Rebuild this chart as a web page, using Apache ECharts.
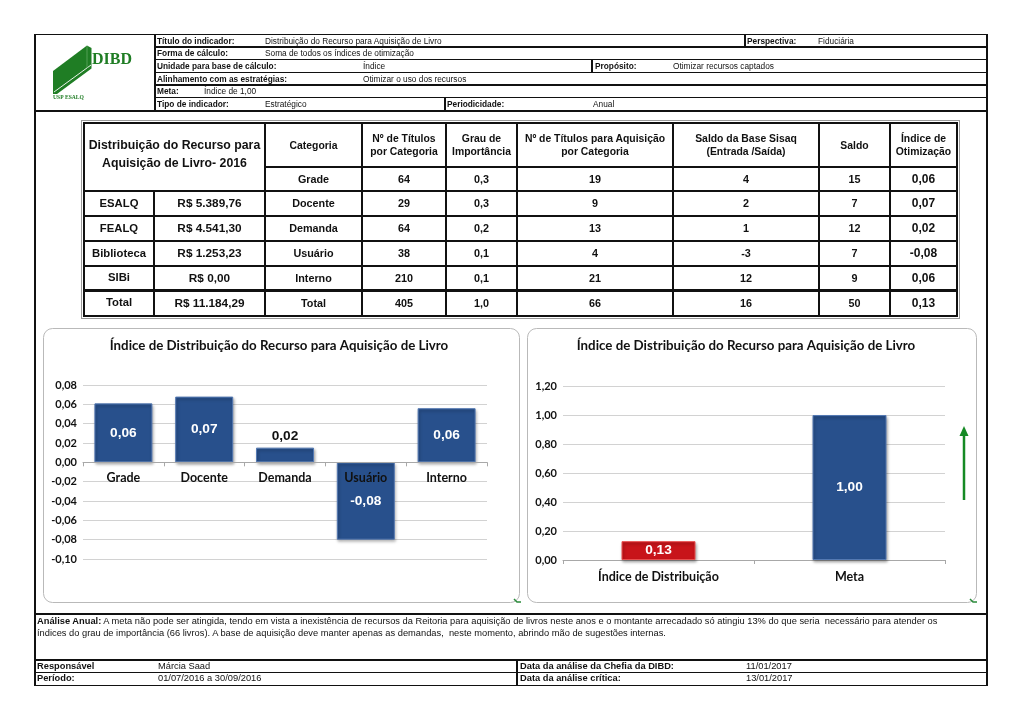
<!DOCTYPE html>
<html><head><meta charset="utf-8">
<script src="https://cdn.jsdelivr.net/npm/echarts@6/dist/echarts.min.js"></script>
<style>
html,body{margin:0;padding:0;background:#fff;}
#page{position:relative;width:1024px;height:723px;overflow:hidden;font-family:"Liberation Sans",Arial,sans-serif;color:#111;}
#chart{position:absolute;left:0;top:0;width:1024px;height:723px;}
.ln{position:absolute;background:#111;}
.t{position:absolute;white-space:nowrap;line-height:1;}
.c{position:absolute;display:flex;align-items:center;justify-content:center;text-align:center;font-weight:bold;line-height:1.2;}
</style></head><body>
<div id="page"><div id="chart"></div></div>
<script>
// ---------------- data ----------------
const categories = ['Grade', 'Docente', 'Demanda', 'Usuário', 'Interno'];
const indiceValues = [0.061, 0.068, 0.0152, -0.080, 0.056];
const summaryCategories = ['Índice de Distribuição', 'Meta'];
const summaryValues = [0.13, 1.00];
const chartTitle = 'Índice de Distribuição do Recurso para Aquisição de Livro';
const leftAxisMin = -0.10, leftAxisMax = 0.08, leftAxisStep = 0.02;
const rightAxisMin = 0, rightAxisMax = 1.2, rightAxisStep = 0.2;

const tableNames = ['ESALQ', 'FEALQ', 'Biblioteca', 'SIBi', 'Total'];
const tableAmounts = ['R$ 5.389,76', 'R$ 4.541,30', 'R$ 1.253,23', 'R$ 0,00', 'R$ 11.184,29'];
const tableCategories = ['Grade', 'Docente', 'Demanda', 'Usuário', 'Interno', 'Total'];
const titulosPorCategoria = ['64', '29', '64', '38', '210', '405'];
const grauImportancia = ['0,3', '0,3', '0,2', '0,1', '0,1', '1,0'];
const titulosAquisicao = ['19', '9', '13', '4', '21', '66'];
const saldoSisaq = ['4', '2', '1', '-3', '12', '16'];
const saldo = ['15', '7', '12', '7', '9', '50'];
const indiceOtimizacao = ['0,06', '0,07', '0,02', '-0,08', '0,06', '0,13'];
const tableHeaders = ['Categoria', 'Nº de Títulos<br>por Categoria', 'Grau de<br>Importância',
  'Nº de Títulos para Aquisição<br>por Categoria', 'Saldo da Base Sisaq<br>(Entrada /Saída)', 'Saldo', 'Índice de<br>Otimização'];
const tableTitle = 'Distribuição do Recurso para<br>Aquisição de Livro- 2016';

// ---------------- helpers ----------------
const page = document.getElementById('page');
function box(x, y, w, h, color) {
  const d = document.createElement('div'); d.className = 'ln';
  d.style.cssText = `left:${x}px;top:${y}px;width:${w}px;height:${h}px;` + (color ? `background:${color};` : '');
  page.appendChild(d);
}
function hl(x1, x2, y, t = 1, c) { box(x1, y - t / 2, x2 - x1, t, c); }
function vl(x, y1, y2, t = 1, c) { box(x - t / 2, y1, t, y2 - y1, c); }
function text(x, cy, s, size, bold, extra) {
  const d = document.createElement('div'); d.className = 't'; d.textContent = s;
  d.style.cssText = `left:${x}px;top:${cy - size * 0.5}px;font-size:${size}px;font-weight:${bold ? 'bold' : 'normal'};` + (extra || '');
  page.appendChild(d); return d;
}
function cell(x1, y1, x2, y2, html, size, extra) {
  const d = document.createElement('div'); d.className = 'c';
  d.style.cssText = `left:${x1}px;top:${y1}px;width:${x2 - x1}px;height:${y2 - y1}px;font-size:${size}px;` + (extra || '');
  d.innerHTML = html; page.appendChild(d); return d;
}

// ---------------- header block ----------------
const HS = 8.3;
const hy = [34.5, 47, 59.7, 72.3, 85, 97.5, 110.5];
const hc = i => (hy[i] + hy[i + 1]) / 2;
hl(35, 987, 34.5, 1.5);
for (let i = 1; i < 6; i++) hl(155, 987, hy[i], 1.3);
hl(35, 987, 110.8, 2);
vl(35, 34, 686, 1.5); vl(987, 34, 686, 1.5);
vl(155, 34, 111, 1.5);
vl(745, 34.5, 47, 1.5);
vl(592, 59.7, 72.3, 1.5);
vl(445, 97.5, 110.5, 1.5);

text(157, hc(0), 'Título do indicador:', HS, true);
text(265, hc(0), 'Distribuição do Recurso para Aquisição de Livro', HS, false);
text(747, hc(0), 'Perspectiva:', HS, true);
text(818, hc(0), 'Fiduciária', HS, false);
text(157, hc(1), 'Forma de cálculo:', HS, true);
text(265, hc(1), 'Soma de todos os índices de otimização', HS, false);
text(157, hc(2), 'Unidade para base de cálculo:', HS, true);
text(363, hc(2), 'Índice', HS, false);
text(595, hc(2), 'Propósito:', HS, true);
text(673, hc(2), 'Otimizar recursos captados', HS, false);
text(157, hc(3), 'Alinhamento com as estratégias:', HS, true);
text(363, hc(3), 'Otimizar o uso dos recursos', HS, false);
text(157, hc(4), 'Meta:', HS, true);
text(204, hc(4), 'Índice de 1,00', HS, false);
text(157, hc(5), 'Tipo de indicador:', HS, true);
text(265, hc(5), 'Estratégico', HS, false);
text(447, hc(5), 'Periodicidade:', HS, true);
text(593, hc(5), 'Anual', HS, false);

// ---------------- data table ----------------
const X = [84, 154, 265, 362, 446, 517, 673, 819, 890, 957];
const Y = [123, 167, 191, 216, 241, 266, 290, 316];
const fr = document.createElement('div');
fr.style.cssText = 'position:absolute;left:81px;top:120px;width:877px;height:197px;border:1px solid #9a9a9a;';
page.appendChild(fr);
const LW = 2;
hl(84, 957, 123, LW); hl(265, 957, 167, LW);
hl(84, 957, 191, LW); hl(84, 957, 216, LW); hl(84, 957, 241, LW); hl(84, 957, 266, LW);
hl(84, 957, 290, 3); hl(84, 957, 316, LW);
vl(84, 122, 317, LW); vl(957, 122, 317, LW);
vl(154, 191, 316, LW);
[265, 362, 446, 517, 673, 819, 890].forEach(x => vl(x, 122, 317, (x === 265 || x === 819) ? 2.6 : LW));

cell(84, 123, 265, 184, tableTitle, 12.3, 'line-height:18px;');
tableHeaders.forEach((h, j) => cell(X[j + 2], 123, X[j + 3], 167, h, 10.4, 'line-height:13px;'));
for (let r = 0; r < 6; r++) {
  const y1 = Y[r + 1], y2 = Y[r + 2];
  if (r >= 1) {
    cell(X[0], y1, X[1], y2, tableNames[r - 1], 11.3);
    cell(X[1], y1, X[2], y2, tableAmounts[r - 1], 11.8);
  }
  cell(X[2], y1, X[3], y2, tableCategories[r], 10.8);
  cell(X[3], y1, X[4], y2, titulosPorCategoria[r], 10.8);
  cell(X[4], y1, X[5], y2, grauImportancia[r], 10.8);
  cell(X[5], y1, X[6], y2, titulosAquisicao[r], 10.8);
  cell(X[6], y1, X[7], y2, saldoSisaq[r], 10.8);
  cell(X[7], y1, X[8], y2, saldo[r], 10.8);
  cell(X[8], y1, X[9], y2, indiceOtimizacao[r], 12);
}

// ---------------- footer ----------------
hl(35, 987, 613.8, 2);
hl(35, 987, 660, 2);
hl(35, 987, 672.6, 1.3);
hl(35, 987, 685.6, 1.5);
vl(517, 660, 686, 1.5);
const an = document.createElement('div');
an.style.cssText = 'position:absolute;left:37px;top:615px;width:948px;font-size:9.3px;line-height:12.2px;white-space:nowrap;';
an.innerHTML = '<b>Análise Anual:</b> A meta não pode ser atingida, tendo em vista a inexistência de recursos da Reitoria para aquisição de livros neste anos e o montante arrecadado só atingiu 13% do que seria&nbsp; necessário para atender os<br>índices do grau de importância (66 livros). A base de aquisição deve manter apenas as demandas,&nbsp; neste momento, abrindo mão de sugestões internas.';
page.appendChild(an);
const FS = 9.3;
text(37, 666.3, 'Responsável', FS, true);
text(158, 666.3, 'Márcia Saad', FS, false);
text(520, 666.3, 'Data da análise da Chefia da DIBD:', FS, true);
text(746, 666.3, '11/01/2017', FS, false);
text(37, 679.1, 'Período:', FS, true);
text(158, 679.1, '01/07/2016 a 30/09/2016', FS, false);
text(520, 679.1, 'Data da análise crítica:', FS, true);
text(746, 679.1, '13/01/2017', FS, false);

// ---------------- charts ----------------
const fmt = v => (Math.round(v * 100) / 100).toFixed(2).replace('.', ',');
const blue = '#28508c', blueEdge = '#5479b2';
const red = '#c8141a', redEdge = '#e85050';
const barShadow = { shadowColor: 'rgba(0,0,0,0.35)', shadowBlur: 3, shadowOffsetX: 1, shadowOffsetY: 2 };
const catLabel = { fontFamily: 'Lato', fontWeight: 'bold', fontSize: 12.5, color: '#111' };
const valLabel = { formatter: fmt, fontFamily: 'Lato', fontWeight: 'bold', fontSize: 11, color: '#111', margin: 6 };
const barLabel = { show: true, formatter: p => fmt(p.value), fontFamily: 'Liberation Sans', fontWeight: 'bold', fontSize: 13.7 };

const leftGrid = { left: 83, top: 385, width: 404, height: 174 };
// the category axis of the left chart sits on the zero line
const zeroOffset = -leftGrid.height * (0 - leftAxisMin) / (leftAxisMax - leftAxisMin);

const chart = echarts.init(document.getElementById('chart'), null, { renderer: 'canvas' });
chart.setOption({
  animation: false,
  grid: [
    leftGrid,
    { left: 563, top: 386, width: 382, height: 174 }
  ],
  xAxis: [
    { gridIndex: 0, type: 'category', data: categories, z: 5, position: 'bottom', offset: zeroOffset,
      axisLine: { onZero: false, lineStyle: { color: '#a8a8a8' } },
      axisTick: { show: true, length: 4, lineStyle: { color: '#a8a8a8' } },
      axisLabel: Object.assign({ margin: 9 }, catLabel) },
    { gridIndex: 1, type: 'category', data: summaryCategories,
      axisLine: { lineStyle: { color: '#a8a8a8' } },
      axisTick: { show: true, length: 4, lineStyle: { color: '#a8a8a8' } },
      axisLabel: Object.assign({ margin: 10 }, catLabel) }
  ],
  yAxis: [
    { gridIndex: 0, type: 'value', min: leftAxisMin, max: leftAxisMax, interval: leftAxisStep,
      axisLabel: valLabel, axisLine: { show: false }, axisTick: { show: false },
      splitLine: { lineStyle: { color: '#d2d2d2' } } },
    { gridIndex: 1, type: 'value', min: rightAxisMin, max: rightAxisMax, interval: rightAxisStep,
      axisLabel: valLabel, axisLine: { show: false }, axisTick: { show: false },
      splitLine: { lineStyle: { color: '#d2d2d2' } } }
  ],
  series: [
    { type: 'bar', xAxisIndex: 0, yAxisIndex: 0, barWidth: 58,
      itemStyle: Object.assign({ color: blue, borderColor: blueEdge, borderWidth: 1 }, barShadow),
      label: barLabel,
      data: indiceValues.map(v => ({ value: v,
        label: Math.abs(v) < 0.03 ? { position: 'top', distance: 4, color: '#111' } : { position: 'inside', color: '#fff' } })) },
    { type: 'bar', xAxisIndex: 1, yAxisIndex: 1, barWidth: 74,
      label: Object.assign({ position: 'inside', color: '#fff' }, barLabel),
      data: summaryValues.map((v, i) => ({ value: v,
        itemStyle: Object.assign(i === 0 ? { color: red, borderColor: redEdge, borderWidth: 1 } : { color: blue, borderColor: blueEdge, borderWidth: 1 }, barShadow) })) }
  ],
  graphic: [
    { type: 'rect', z: -1, shape: { x: 43.5, y: 328.5, width: 476, height: 274, r: 9 }, style: { fill: '#fff', stroke: '#b9b9b9', lineWidth: 1 } },
    { type: 'rect', z: -1, shape: { x: 527.5, y: 328.5, width: 449, height: 274, r: 9 }, style: { fill: '#fff', stroke: '#b9b9b9', lineWidth: 1 } },
    { type: 'text', x: 279, y: 346, style: { text: chartTitle, align: 'center', verticalAlign: 'middle', fontFamily: 'Lato', fontWeight: 'bold', fontSize: 13.3, fill: '#111' } },
    { type: 'text', x: 746, y: 346, style: { text: chartTitle, align: 'center', verticalAlign: 'middle', fontFamily: 'Lato', fontWeight: 'bold', fontSize: 13.3, fill: '#111' } },
    { type: 'line', shape: { x1: 964, y1: 500, x2: 964, y2: 434 }, style: { stroke: '#158a24', lineWidth: 2.5 } },
    { type: 'polygon', shape: { points: [[964, 426], [959.5, 436], [968.5, 436]] }, style: { fill: '#158a24' } },
    { type: 'polyline', shape: { points: [[514, 599], [517, 602], [521, 602]] }, style: { stroke: '#2a8a3a', lineWidth: 1.5, fill: null } },
    { type: 'polyline', shape: { points: [[970, 599], [973, 602], [977, 602]] }, style: { stroke: '#2a8a3a', lineWidth: 1.5, fill: null } },
    { type: 'polygon', shape: { points: [[53, 71], [87, 45.5], [91.5, 48], [91.5, 68.5], [57, 94], [53, 94]] }, style: { fill: '#1f7d24' } },
    { type: 'line', shape: { x1: 54, y1: 92, x2: 91, y2: 65 }, style: { stroke: '#e8f2e8', lineWidth: 1 } },
    { type: 'line', shape: { x1: 87, y1: 46, x2: 87, y2: 68 }, style: { stroke: '#5fa863', lineWidth: 0.8 } },
    { type: 'text', x: 92, y: 60, style: { text: 'DIBD', verticalAlign: 'middle', fontFamily: 'Liberation Serif', fontWeight: 'bold', fontSize: 16, fill: '#1f7d24' } },
    { type: 'text', x: 53, y: 97.5, style: { text: 'USP ESALQ', verticalAlign: 'middle', fontFamily: 'Liberation Serif', fontWeight: 'bold', fontSize: 5.6, fill: '#1f7d24' } }
  ]
});
</script>
</body></html>
